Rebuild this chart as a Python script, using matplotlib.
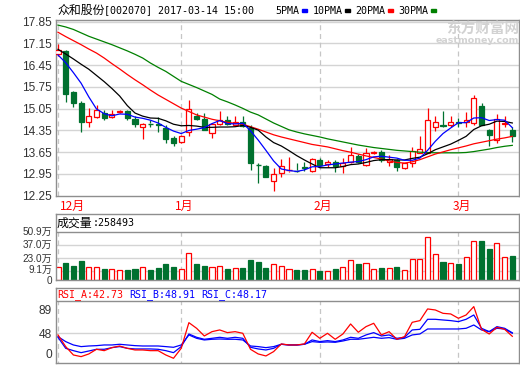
import matplotlib
matplotlib.use('Agg')
import matplotlib.pyplot as plt
import matplotlib.transforms as mtransforms
from matplotlib.patches import Rectangle
import numpy as np

W, H = 520, 365
plt.rcParams['font.family'] = ['Liberation Sans', 'Noto Sans CJK SC', 'DejaVu Sans']

# 众和股份 日K (2016-12 ~ 2017-03-14)
opens = [16.81, 16.92, 15.58, 15.24, 14.63, 14.77, 14.90, 14.79, 14.93, 14.98,
         14.72, 14.47, 14.59, 14.55, 14.44, 14.12, 13.97, 14.31, 14.83, 14.72,
         14.26, 14.55, 14.69, 14.52, 14.61, 14.42, 13.25, 13.20, 12.73, 12.97,
         13.06, 13.08, 13.16, 13.05, 13.40, 13.26, 13.34, 13.20, 13.34, 13.53,
         13.24, 13.61, 13.66, 13.34, 13.40, 13.13, 13.29, 13.64, 13.64, 14.45,
         14.53, 14.53, 14.61, 14.63, 14.58, 15.14, 14.36, 14.04, 14.55, 14.36]
highs = [17.13, 16.94, 15.62, 15.31, 15.08, 15.17, 15.01, 15.01, 15.00, 15.01,
         14.82, 14.58, 14.69, 14.77, 14.52, 14.17, 14.19, 15.33, 14.91, 14.90,
         14.58, 14.98, 14.83, 14.83, 14.83, 14.52, 13.31, 13.24, 13.13, 13.42,
         13.48, 13.31, 13.34, 13.45, 13.45, 13.40, 13.40, 13.45, 13.81, 13.58,
         13.77, 13.70, 13.72, 13.56, 13.42, 13.29, 13.83, 14.17, 15.06, 14.82,
         14.98, 14.82, 14.76, 14.95, 15.49, 15.22, 14.40, 14.87, 14.82, 14.47]
lows = [16.75, 15.28, 15.11, 14.31, 14.47, 14.74, 14.69, 14.74, 14.90, 14.69,
        14.47, 14.07, 14.47, 14.31, 13.96, 13.85, 13.94, 14.17, 14.69, 14.36,
        14.12, 14.52, 14.52, 14.49, 14.47, 13.08, 12.67, 12.84, 12.41, 12.84,
        13.00, 13.02, 13.05, 13.02, 13.20, 13.18, 13.02, 12.99, 13.31, 13.31,
        13.20, 13.59, 13.34, 13.20, 13.05, 13.10, 13.16, 13.61, 13.61, 14.34,
        14.47, 14.47, 14.47, 14.47, 14.52, 14.52, 13.85, 13.96, 14.47, 13.99]
closes = [16.94, 15.51, 15.24, 14.63, 14.82, 15.01, 14.76, 14.87, 14.96, 14.74,
          14.56, 14.55, 14.57, 14.52, 14.07, 13.94, 14.17, 15.03, 14.72, 14.36,
          14.55, 14.69, 14.55, 14.63, 14.50, 13.31, 13.23, 12.86, 12.95, 13.20,
          13.08, 13.06, 13.13, 13.42, 13.24, 13.34, 13.20, 13.29, 13.56, 13.34,
          13.64, 13.66, 13.40, 13.42, 13.16, 13.29, 13.69, 13.74, 14.69, 14.61,
          14.50, 14.61, 14.58, 14.69, 15.38, 14.52, 14.20, 14.71, 14.58, 14.17]

ma5 = [16.78, 16.53, 16.21, 15.87, 15.43, 15.04, 14.89, 14.82, 14.88, 14.87,
       14.78, 14.74, 14.68, 14.59, 14.45, 14.33, 14.25, 14.35, 14.39, 14.44,
       14.57, 14.67, 14.57, 14.56, 14.58, 14.34, 14.04, 13.71, 13.37, 13.11,
       13.06, 13.03, 13.08, 13.18, 13.19, 13.24, 13.27, 13.30, 13.33, 13.35,
       13.41, 13.50, 13.52, 13.49, 13.46, 13.39, 13.39, 13.46, 13.71, 14.00,
       14.25, 14.43, 14.60, 14.60, 14.75, 14.76, 14.67, 14.70, 14.68, 14.44]
ma10 = [16.96, 16.81, 16.65, 16.48, 16.32, 16.12, 15.92, 15.70, 15.46, 15.15,
        14.91, 14.81, 14.75, 14.74, 14.66, 14.55, 14.50, 14.51, 14.49, 14.45,
        14.45, 14.46, 14.46, 14.47, 14.51, 14.45, 14.36, 14.14, 13.96, 13.85,
        13.70, 13.54, 13.40, 13.27, 13.15, 13.15, 13.15, 13.19, 13.25, 13.27,
        13.32, 13.38, 13.41, 13.41, 13.40, 13.40, 13.45, 13.49, 13.60, 13.73,
        13.82, 13.91, 14.03, 14.16, 14.38, 14.50, 14.55, 14.65, 14.64, 14.59]
ma20 = [17.51, 17.37, 17.24, 17.11, 16.97, 16.84, 16.68, 16.50, 16.33, 16.15,
        15.98, 15.82, 15.65, 15.49, 15.35, 15.21, 15.07, 14.96, 14.85, 14.78,
        14.71, 14.66, 14.61, 14.58, 14.55, 14.47, 14.39, 14.30, 14.21, 14.14,
        14.08, 14.02, 13.96, 13.90, 13.86, 13.82, 13.76, 13.70, 13.65, 13.59,
        13.53, 13.48, 13.43, 13.37, 13.32, 13.30, 13.34, 13.41, 13.50, 13.59,
        13.66, 13.73, 13.79, 13.85, 13.92, 13.97, 14.02, 14.07, 14.11, 14.16]
ma30 = [17.74, 17.68, 17.60, 17.49, 17.38, 17.29, 17.20, 17.11, 17.01, 16.91,
        16.80, 16.68, 16.52, 16.38, 16.25, 16.09, 15.93, 15.83, 15.73, 15.62,
        15.51, 15.36, 15.27, 15.17, 15.06, 14.94, 14.85, 14.72, 14.59, 14.48,
        14.37, 14.30, 14.24, 14.19, 14.14, 14.08, 14.03, 13.98, 13.93, 13.88,
        13.84, 13.80, 13.77, 13.74, 13.71, 13.69, 13.67, 13.65, 13.64, 13.63,
        13.63, 13.63, 13.63, 13.64, 13.67, 13.71, 13.75, 13.80, 13.84, 13.87]

# 成交量 (万股)
volume = [13.5, 18.5, 14.9, 20.3, 14.2, 13.5, 11.7, 11.4, 10.7, 10.7,
          11.7, 13.5, 10.7, 13.2, 17.1, 14.2, 11.7, 28.5, 17.1, 14.9,
          13.5, 14.9, 11.7, 12.5, 12.8, 21.3, 19.6, 13.2, 17.1, 14.9,
          11.7, 10.7, 10.7, 11.7, 9.6, 9.6, 11.7, 13.5, 21.3, 17.1,
          17.8, 11.7, 12.8, 12.8, 13.9, 10.7, 22.4, 22.4, 45.5, 27.8,
          18.9, 17.8, 17.1, 24.2, 41.7, 41.7, 33.1, 39.5, 24.8, 25.8493]

rsi_a = [45.1, 24.6, 9.9, 7.0, 11.7, 19.9, 17.5, 22.8, 25.7, 21.6,
         18.7, 18.7, 17.5, 17.5, 9.9, 4.1, 21.6, 66.7, 56.8, 43.3,
         50.9, 53.9, 49.2, 50.9, 48.0, 19.9, 11.7, 8.2, 15.8, 29.3,
         27.5, 27.5, 29.3, 49.8, 39.2, 48.0, 37.5, 46.8, 64.4, 49.8,
         59.7, 65.6, 45.1, 50.9, 37.5, 42.1, 67.3, 70.3, 90.8, 89.0,
         83.1, 82.0, 74.4, 80.2, 94.9, 55.0, 46.8, 58.5, 55.0, 42.73]
rsi_b = [41.0, 21.6, 17.5, 14.0, 16.9, 19.9, 19.9, 22.8, 24.6, 21.6,
         20.5, 20.5, 20.5, 19.9, 17.5, 14.0, 24.6, 46.8, 41.0, 37.5,
         39.2, 41.0, 39.2, 41.0, 39.2, 23.4, 20.5, 18.7, 21.6, 28.7,
         27.5, 27.5, 28.7, 36.3, 33.4, 35.1, 33.4, 36.3, 41.0, 39.2,
         45.1, 49.2, 43.3, 45.1, 39.2, 41.0, 53.9, 55.0, 72.6, 72.6,
         71.4, 70.3, 68.5, 72.6, 80.2, 56.8, 50.9, 59.7, 56.8, 48.91]
rsi_c = [42.1, 33.4, 27.5, 24.6, 25.7, 26.3, 27.5, 27.5, 28.7, 27.5,
         26.3, 25.7, 25.7, 25.7, 24.6, 23.4, 27.5, 45.1, 39.2, 36.3,
         37.5, 38.0, 37.5, 37.5, 36.3, 25.7, 24.6, 22.8, 24.6, 28.7,
         27.5, 27.5, 28.7, 33.4, 32.2, 32.8, 32.2, 34.5, 37.5, 37.5,
         39.2, 41.0, 39.2, 40.4, 37.5, 39.2, 45.1, 46.8, 55.6, 55.6,
         55.6, 55.6, 55.6, 56.8, 62.6, 53.9, 50.9, 56.8, 55.6, 48.17]

month_idx = [0, 16, 34, 52]
month_labels = ['12月', '1月', '2月', '3月']
price_ticks = [12.25, 12.95, 13.65, 14.35, 15.05, 15.75, 16.45, 17.15, 17.85]
vol_ticks = [0, 9.1, 23.0, 37.0, 50.9]
vol_tick_labels = ['0', '9.1万', '23.0万', '37.0万', '50.9万']
rsi_ticks = [0, 48, 89]

RED = '#ff0000'
GREEN = '#00712f'
BLUE = '#0000ff'
BORDER = '#8e8e8e'
GRID = '#d4d4d4'
DASH = '#c6c6c6'
LABEL = '#333333'
MONO = 'DejaVu Sans Mono'
CJK = 'Noto Sans CJK SC'


def frac(x0, y0, x1, y1):
    # 像素框 -> figure 坐标
    return [x0 / W, 1 - y1 / H, (x1 - x0) / W, (y1 - y0) / H]


def fx(x):
    return x / W


def fy(y):
    return 1 - y / H


fig = plt.figure(figsize=(W / 100, H / 100), dpi=100)
ax_p = fig.add_axes(frac(56, 20, 519, 195.7))
ax_v = fig.add_axes(frac(56, 214, 519, 280))
ax_r = fig.add_axes(frac(56, 288, 519, 363))

n = len(closes)
x = np.arange(n)
step = 7.7
xlim = (-2 / step, (519 - 58) / step)
bw = 0.66

for ax in (ax_p, ax_v, ax_r):
    ax.set_xlim(*xlim)
    ax.set_xticks([])
    for s in ax.spines.values():
        s.set_color(BORDER)
        s.set_linewidth(1)
    ax.tick_params(axis='y', length=0, pad=3, labelsize=8.6, labelcolor=LABEL)

# ---------- K线 ----------
ax_p.set_ylim(12.25, 12.25 + (195.7 - 20) * 0.03218)
ax_p.set_yticks(price_ticks)
ax_p.set_yticklabels(['%.2f' % t for t in price_ticks])
for t in price_ticks[1:]:
    ax_p.axhline(t, color=GRID, lw=1, zorder=0)
for m in month_idx:
    ax_p.axvline(m, color=DASH, lw=0.9, ls=(0, (4, 3)), zorder=0)

for i in range(n):
    o, h, l, c = opens[i], highs[i], lows[i], closes[i]
    up = c >= o
    col = RED if up else GREEN
    lo, hi = min(o, c), max(o, c)
    ax_p.vlines(i, l, lo, color=col, lw=0.9, zorder=2)
    ax_p.vlines(i, hi, h, color=col, lw=0.9, zorder=2)
    if hi - lo < 0.02:
        ax_p.hlines(c, i - bw / 2, i + bw / 2, color=col, lw=1.0, zorder=3)
    else:
        ax_p.add_patch(Rectangle((i - bw / 2, lo), bw, hi - lo,
                                 facecolor='white' if up else GREEN,
                                 edgecolor=col, lw=0.9, zorder=3))

ax_p.plot(x, ma30, color='#008000', lw=0.9, zorder=4)
ax_p.plot(x, ma20, color=RED, lw=0.9, zorder=4)
ax_p.plot(x, ma10, color='black', lw=0.9, zorder=4)
ax_p.plot(x, ma5, color=BLUE, lw=0.9, zorder=4)

# 水印
fig.text(fx(519), fy(29), '东方财富网', family=CJK, weight='bold', size=10.5,
         color='#d2d2d2', ha='right', va='center')
fig.text(fx(519), fy(40.5), 'eastmoney.com', family='DejaVu Sans', weight='bold',
         size=6.8, color='#d2d2d2', ha='right', va='center')

# 标题与图例
fig.text(fx(57), fy(10), '众和股份', family=CJK, size=8.6, va='center')
fig.text(fx(104), fy(10.5), '[002070] 2017-03-14 15:00', family=MONO, size=7.2,
         va='center')
legend = [('5PMA', 275, 302, BLUE), ('10PMA', 313, 345, 'black'),
          ('20PMA', 355, 388, RED), ('30PMA', 398, 431, '#008000')]
for name, tx, rx, col in legend:
    fig.text(fx(tx), fy(10.5), name, family=MONO, size=7.2, va='center')
    fig.patches.append(Rectangle((fx(rx), fy(12)), 5 / W, 2.5 / H,
                                 transform=fig.transFigure, color=col))

# 月份标签
trans = mtransforms.blended_transform_factory(ax_p.transData, fig.transFigure)
for k, (m, lab) in enumerate(zip(month_idx, month_labels)):
    if k == 0:
        ax_p.text(m + 0.26, fy(206.5), lab, transform=trans, ha='left',
                  va='center', color=RED, family=CJK, size=8.6)
    else:
        ax_p.text(m + 0.4, fy(206.5), lab, transform=trans, ha='center',
                  va='center', color=RED, family=CJK, size=8.6)

# ---------- 成交量 ----------
ax_v.set_ylim(0, 66 / 0.937)
ax_v.set_yticks([])
# 刻度文字挤在一起, 底部两个稍微错开
vol_trans = mtransforms.blended_transform_factory(ax_v.transAxes, ax_v.transData)
nudge = {0: -1.0, 1: 2.0}
for k, (t, lab) in enumerate(zip(vol_ticks, vol_tick_labels)):
    off = mtransforms.ScaledTranslation(0, nudge.get(k, 0) / 100, fig.dpi_scale_trans)
    ax_v.text(-3.5 / 463, t, lab, transform=vol_trans + off, ha='right',
              va='center', size=7.2, color=LABEL)
for t in vol_ticks[1:-1]:
    ax_v.axhline(t, color=GRID, lw=1, zorder=0)
ax_v.axhline(vol_ticks[-1], color=BORDER, lw=1, zorder=1)
ax_v.vlines(month_idx, 0, vol_ticks[-1], color=DASH, lw=0.9, ls=(0, (4, 3)), zorder=0)
up_mask = [closes[i] >= opens[i] for i in range(n)]
ax_v.bar(x, volume, width=bw,
         color=['white' if u else GREEN for u in up_mask],
         edgecolor=[RED if u else GREEN for u in up_mask], lw=0.9, zorder=2)
fig.text(fx(57), fy(223), '成交量', family=CJK, size=8.6, va='center')
fig.text(fx(93), fy(223.5), ':%d' % round(volume[-1] * 10000), family=MONO,
         size=7.2, va='center')

# ---------- RSI ----------
ax_r.set_ylim(48 - 29.7 / 0.569, 48 + 45.3 / 0.569)
ax_r.set_yticks(rsi_ticks)
ax_r.set_yticklabels([str(t) for t in rsi_ticks])
ax_r.get_yticklabels()[0].set_va('bottom')
ax_r.axhline(48, color=GRID, lw=1, zorder=0)
top_r = 48 + 32.3 / 0.569
ax_r.axhline(top_r, color=BORDER, lw=1, zorder=1)
ax_r.vlines(month_idx, -10, top_r, color=DASH, lw=0.9, ls=(0, (4, 3)), zorder=0)
ax_r.plot(x, rsi_c, color=BLUE, lw=0.9, zorder=2)
ax_r.plot(x, rsi_b, color=BLUE, lw=0.9, zorder=2)
ax_r.plot(x, rsi_a, color=RED, lw=0.9, zorder=3)
for tx, lab, v, col in [(57, 'RSI_A', rsi_a[-1], RED), (129, 'RSI_B', rsi_b[-1], BLUE),
                        (201, 'RSI_C', rsi_c[-1], BLUE)]:
    fig.text(fx(tx), fy(295), '%s:%.2f' % (lab, v), family=MONO, size=7.2,
             color=col, va='center')

fig.savefig('out.png', dpi=100)
